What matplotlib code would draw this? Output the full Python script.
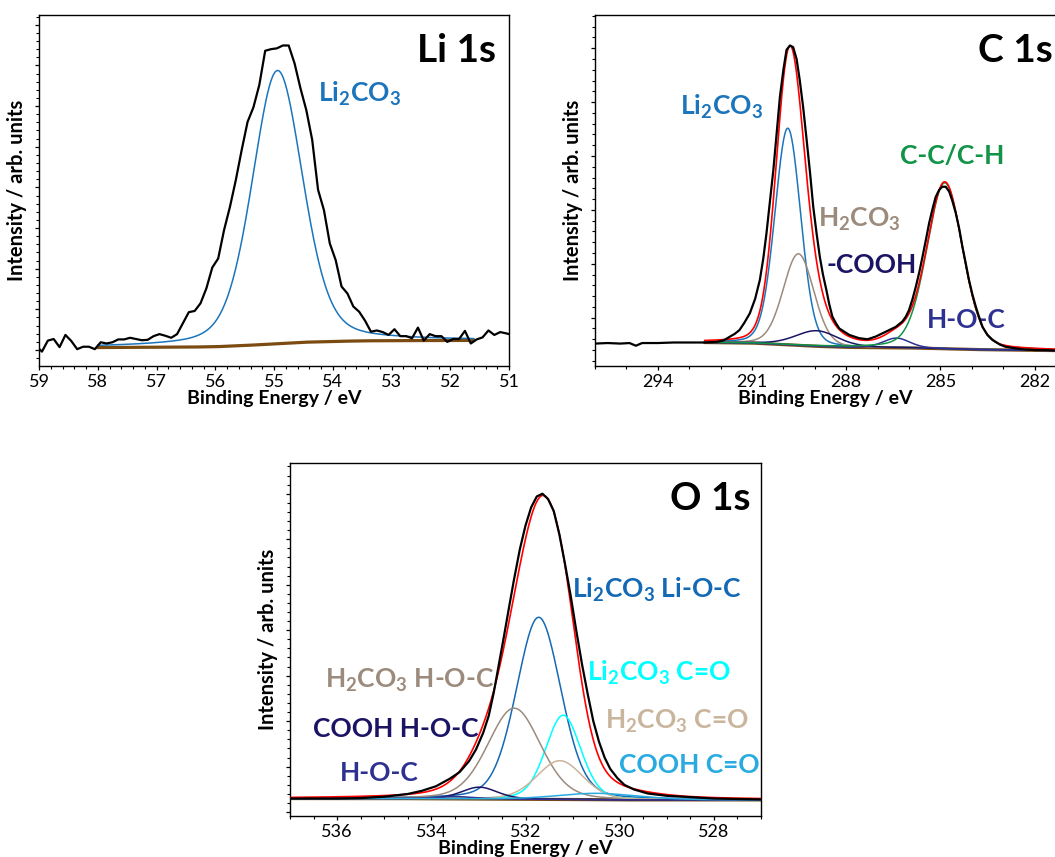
import matplotlib
matplotlib.use("Agg")
import matplotlib.pyplot as plt
from matplotlib.ticker import MultipleLocator
import numpy as np

plt.rcParams['font.family'] = ['Lato', 'DejaVu Sans']
plt.rcParams['mathtext.fontset'] = 'custom'
plt.rcParams['mathtext.rm'] = 'Lato:bold'
plt.rcParams['mathtext.bf'] = 'Lato:bold'
plt.rcParams['mathtext.it'] = 'Lato:bold'

# ---- Li 1s: measured spectrum, 0.1 eV steps starting at 59.05 eV
li_start, li_step = 59.05, 0.1
li_counts = [0.10, -0.04, 0.23, 0.27, 0.07, 0.37, 0.22, 0.02, 0.08, 0.08, 0.02,
             0.19, 0.16, 0.19, 0.26, 0.26, 0.30, 0.27, 0.24, 0.25, 0.34,
             0.39, 0.35, 0.30, 0.39, 0.66, 0.93, 0.96, 1.15, 1.52, 2.03,
             2.25, 2.95, 3.52, 4.18, 4.92, 5.61, 5.97, 6.52, 7.36, 7.40,
             7.42, 7.49, 7.49, 7.05, 6.44, 5.90, 5.17, 3.94, 3.44, 2.62,
             2.21, 1.56, 1.39, 1.07, 0.94, 0.72, 0.45, 0.48, 0.44, 0.37,
             0.51, 0.34, 0.34, 0.29, 0.55, 0.23, 0.39, 0.34, 0.34, 0.20,
             0.27, 0.27, 0.47, 0.16, 0.26, 0.31, 0.48, 0.37, 0.44, 0.41, 0.37]
li_bkg_be = [58.0, 56.5, 56.0, 55.5, 55.0, 54.5, 54.0, 53.5, 53.0, 51.6]
li_bkg = [0.06, 0.07, 0.08, 0.11, 0.15, 0.19, 0.21, 0.225, 0.23, 0.235]
# fitted components: centre (eV), height, FWHM (eV), Lorentzian fraction
li_names = ['Li$_2$CO$_3$']
li_centre = [54.94]
li_height = [6.72]
li_fwhm = [1.02]
li_mix = [0.3]
li_colors = ['#1b75bc']

# ---- C 1s
c_be = [296.0, 295.6, 295.2, 294.9, 294.7, 294.5, 294.0, 293.5, 293.0, 292.5,
        292.13, 291.9, 291.7, 291.55, 291.4, 291.25, 291.07, 290.9, 290.75,
        290.64, 290.54, 290.43, 290.32, 290.21, 290.11, 290.0, 289.9, 289.79,
        289.69, 289.58, 289.48, 289.37, 289.26, 289.15, 289.05, 288.94, 288.84,
        288.74, 288.63, 288.54, 288.44, 288.33, 288.22, 287.9, 287.59, 287.32,
        287.06, 286.74, 286.42, 286.21, 286.1, 286.0, 285.89, 285.78, 285.67,
        285.57, 285.46, 285.36, 285.25, 285.15, 285.04, 284.94, 284.83, 284.72,
        284.62, 284.51, 284.4, 284.3, 284.19, 284.09, 283.98, 283.87, 283.76,
        283.66, 283.5, 283.34, 283.1, 282.92, 282.6, 282.28, 282.0, 281.7, 281.3]
c_counts = [-0.48, -0.47, -0.48, -0.47, -0.52, -0.47, -0.47, -0.46, -0.46, -0.46,
            -0.45, -0.42, -0.35, -0.30, -0.23, -0.10, 0.08, 0.35, 0.70,
            1.10, 1.56, 2.15, 2.74, 3.45, 4.10, 4.60, 4.97, 5.05,
            5.02, 4.80, 4.41, 3.90, 3.30, 2.68, 2.06, 1.55, 1.13,
            0.80, 0.51, 0.25, 0.02, -0.10, -0.20, -0.32, -0.38, -0.40,
            -0.35, -0.26, -0.17, -0.07, 0.02, 0.14, 0.34, 0.58, 0.85,
            1.13, 1.45, 1.75, 2.02, 2.24, 2.37, 2.43, 2.43, 2.34,
            2.17, 1.94, 1.65, 1.32, 1.00, 0.70, 0.43, 0.20, 0.00,
            -0.17, -0.32, -0.41, -0.50, -0.54, -0.57, -0.59, -0.60, -0.60, -0.61]
c_bkg_be = [292.5, 291.0, 290.0, 289.0, 288.0, 286.0, 284.0, 281.3]
c_bkg = [-0.46, -0.47, -0.50, -0.53, -0.55, -0.56, -0.59, -0.61]
c_names = ['Li$_2$CO$_3$', 'H$_2$CO$_3$', '-COOH', 'H-O-C', 'C-C/C-H']
c_centre = [289.86, 289.52, 288.94, 286.40, 284.86]
c_height = [4.02, 1.70, 0.29, 0.18, 3.08]
c_fwhm = [0.97, 1.15, 1.60, 1.00, 1.35]
c_mix = [0.15, 0.15, 0.3, 0.3, 0.2]
c_colors = ['#1b75bc', '#9c8b7c', '#1b1464', '#2e3192', '#119447']

# ---- O 1s
o_be = [537.0, 536.0, 535.5, 535.0, 534.5, 534.2, 533.9, 533.6, 533.4, 533.2,
        533.05, 532.9, 532.78, 532.67, 532.56, 532.46, 532.35, 532.25, 532.12,
        532.0, 531.88, 531.76, 531.64, 531.52, 531.40, 531.28, 531.16, 531.04,
        530.92, 530.80, 530.68, 530.56, 530.44, 530.32, 530.20, 530.05, 529.9,
        529.7, 529.4, 529.0, 528.5, 528.0, 527.0]
o_counts = [0.30, 0.30, 0.31, 0.34, 0.40, 0.47, 0.57, 0.74, 0.88, 1.12,
            1.38, 1.74, 2.12, 2.65, 3.28, 3.85, 4.50, 5.08, 5.78,
            6.30, 6.70, 6.94, 7.00, 6.88, 6.62, 6.10, 5.45, 4.75,
            3.98, 3.25, 2.60, 2.00, 1.55, 1.20, 0.95, 0.75, 0.60,
            0.50, 0.41, 0.36, 0.33, 0.30, 0.28]
o_bkg_be = [537.0, 535.0, 533.0, 532.0, 531.0, 530.0, 527.0]
o_bkg = [0.30, 0.30, 0.29, 0.285, 0.28, 0.27, 0.27]
o_names = ['Li$_2$CO$_3$ Li-O-C', 'Li$_2$CO$_3$ C=O', 'H$_2$CO$_3$ H-O-C',
           'H$_2$CO$_3$ C=O', 'COOH H-O-C', 'H-O-C', 'COOH C=O']
o_centre = [531.72, 531.20, 532.24, 531.27, 532.98, 533.50, 530.46]
o_height = [4.00, 1.85, 2.00, 0.85, 0.26, 0.05, 0.14]
o_fwhm = [1.12, 0.88, 1.32, 1.15, 0.90, 1.00, 2.00]
o_mix = [0.22, 0.22, 0.22, 0.22, 0.3, 0.3, 0.3]
o_colors = ['#1469b4', '#00ffff', '#9c8b7c', '#c9b59c', '#1b1464', '#2e3192', '#29abe2']

BKG_COLOR = '#7b4b12'


def gl_peak(be, centre, height, fwhm, mix):
    u = (be - centre) / fwhm
    return height * ((1 - mix) * np.exp(-4 * np.log(2) * u ** 2) + mix / (1 + 4 * u ** 2))


def draw_fit(ax, be, counts, bkg_be, bkg, centre, height, fwhm, mix, colors, envelope=True):
    grid = np.linspace(max(bkg_be), min(bkg_be), 600)
    base = np.interp(grid, bkg_be[::-1], bkg[::-1])
    total = base.copy()
    for c, h, w, m, col in zip(centre, height, fwhm, mix, colors):
        comp = gl_peak(grid, c, h, w, m)
        total += comp
        ax.plot(grid, base + comp, color=col, lw=1.1, zorder=3)
    ax.plot(grid, base, color=BKG_COLOR, lw=2.3, zorder=2)
    if envelope:
        ax.plot(grid, total, color='red', lw=1.2, zorder=4)
    ax.plot(be, counts, color='black', lw=1.6, zorder=5)


def style_axis(ax, xlim, ylim, major, minor):
    ax.set_xlim(*xlim)
    ax.set_ylim(*ylim)
    ax.xaxis.set_major_locator(MultipleLocator(major))
    ax.xaxis.set_minor_locator(MultipleLocator(minor))
    ax.yaxis.set_major_locator(MultipleLocator(1))
    ax.yaxis.set_minor_locator(MultipleLocator(0.2))
    ax.tick_params(axis='both', which='major', direction='out', length=3, width=0.9,
                   labelsize=13, pad=2.5)
    ax.tick_params(axis='both', which='minor', direction='out', length=2, width=0.8)
    ax.tick_params(axis='y', labelleft=False)
    ax.xaxis.set_major_formatter(plt.FuncFormatter(lambda v, p: f'{v:.0f}'))
    for s in ax.spines.values():
        s.set_linewidth(1.0)
    ax.set_xlabel('Binding Energy / eV', fontsize=14, fontweight='bold', labelpad=0)
    ax.set_ylabel('Intensity / arb. units', fontsize=14.5, fontweight='bold', labelpad=3)


fig = plt.figure(figsize=(10.55, 8.57), dpi=100)
W, H = 1055, 857
ax_li = fig.add_axes([39 / W, 1 - 366 / H, 470 / W, 351 / H])
ax_c = fig.add_axes([595 / W, 1 - 366 / H, 460 / W, 351 / H])
ax_o = fig.add_axes([290 / W, 1 - 816 / H, 471 / W, 353 / H])

# Li 1s
li_be = li_start - li_step * np.arange(len(li_counts))
draw_fit(ax_li, li_be, li_counts, li_bkg_be, li_bkg, li_centre, li_height, li_fwhm,
         li_mix, li_colors, envelope=False)
style_axis(ax_li, (59, 51), (-0.394, 8.24), 1, 0.2)
ax_li.text(0.804, 0.867, 'Li 1s', transform=ax_li.transAxes, fontsize=28,
           fontweight='bold', va='baseline')
ax_li.text(0.594, 0.753, li_names[0], transform=ax_li.transAxes, fontsize=19,
           fontweight='bold', color=li_colors[0], va='baseline')

# C 1s
draw_fit(ax_c, c_be, c_counts, c_bkg_be, c_bkg, c_centre, c_height, c_fwhm,
         c_mix, c_colors)
style_axis(ax_c, (296, 281.35), (-0.896, 5.616), 3, 1)
ax_c.spines['right'].set_visible(False)
ax_c.text(0.833, 0.867, 'C 1s', transform=ax_c.transAxes, fontsize=28,
          fontweight='bold', va='baseline')
c_label_pos = [(0.185, 0.715), (0.485, 0.397), (0.504, 0.266), (0.721, 0.107), (0.663, 0.575)]
for name, col, (lx, ly) in zip(c_names, c_colors, c_label_pos):
    ax_c.text(lx, ly, name, transform=ax_c.transAxes, fontsize=19,
              fontweight='bold', color=col, va='baseline')

# O 1s
draw_fit(ax_o, o_be, o_counts, o_bkg_be, o_bkg, o_centre, o_height, o_fwhm,
         o_mix, o_colors)
style_axis(ax_o, (537, 527), (-0.084, 7.675), 2, 0.5)
ax_o.text(0.807, 0.867, 'O 1s', transform=ax_o.transAxes, fontsize=28,
          fontweight='bold', va='baseline')
o_label_pos = [(0.598, 0.617), (0.630, 0.383), (0.074, 0.362), (0.669, 0.248),
               (0.049, 0.225), (0.106, 0.099), (0.699, 0.123)]
for name, col, (lx, ly) in zip(o_names, o_colors, o_label_pos):
    ax_o.text(lx, ly, name, transform=ax_o.transAxes, fontsize=19,
              fontweight='bold', color=col, va='baseline')

fig.savefig('out.png', dpi=100)
